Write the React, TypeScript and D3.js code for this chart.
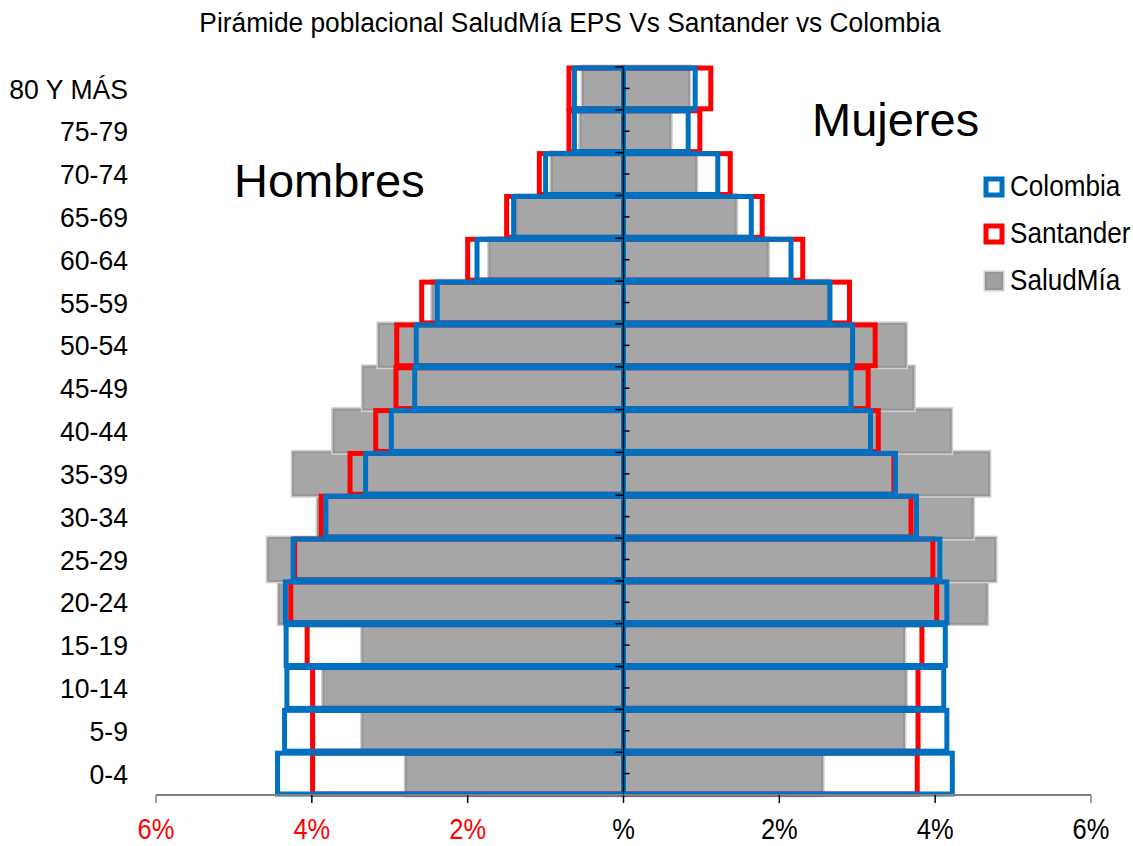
import React from "react";
import * as d3 from "d3";

const categories = ["0-4","5-9","10-14","15-19","20-24","25-29","30-34","35-39","40-44","45-49","50-54","55-59","60-64","65-69","70-74","75-79","80 Y MÁS"];

const colombiaH = [4.44, 4.35, 4.32, 4.33, 4.34, 4.24, 3.82, 3.31, 2.98, 2.68, 2.66, 2.39, 1.88, 1.41, 1.00, 0.63, 0.63];
const santanderH = [3.99, 3.99, 3.99, 4.06, 4.27, 4.22, 3.88, 3.51, 3.18, 2.92, 2.91, 2.59, 2.00, 1.50, 1.08, 0.70, 0.70];
const saludMiaH = [2.79, 3.35, 3.85, 3.35, 4.42, 4.56, 3.92, 4.24, 3.72, 3.34, 3.14, 2.45, 1.72, 1.37, 0.92, 0.55, 0.52];

const colombiaM = [4.22, 4.15, 4.11, 4.13, 4.15, 4.06, 3.76, 3.49, 3.17, 2.92, 2.94, 2.65, 2.15, 1.64, 1.21, 0.83, 0.92];
const santanderM = [3.77, 3.78, 3.78, 3.83, 4.02, 3.97, 3.69, 3.47, 3.27, 3.14, 3.23, 2.90, 2.30, 1.78, 1.37, 0.98, 1.12];
const saludMiaM = [2.55, 3.60, 3.62, 3.60, 4.66, 4.77, 4.48, 4.69, 4.20, 3.72, 3.62, 2.62, 1.85, 1.44, 0.93, 0.60, 0.84];

const xTicks = [-6, -4, -2, 0, 2, 4, 6];
const xTickLabels = ["6%", "4%", "2%", "%", "2%", "4%", "6%"];

const legendItems = ["Colombia", "Santander", "SaludMía"];

const W = 1133;
const H = 846;
const FONT = "'Liberation Sans', Arial, sans-serif";
const BLUE = "#0070C0";
const RED = "#FF0000";

function SText(props: { x: number; y: number; sx: number; size: number; anchor?: string; fill?: string; dy?: string; children: React.ReactNode }) {
  return (
    <text
      transform={`translate(${props.x},${props.y}) scale(${props.sx},1)`}
      textAnchor={props.anchor || "start"}
      fontSize={props.size}
      dy={props.dy}
      fill={props.fill || "#000"}
    >
      {props.children}
    </text>
  );
}

export default function App() {
  const x = d3.scaleLinear().domain([-6, 6]).range([156, 1091]);
  const y = d3.scaleBand<string>().domain([...categories].reverse()).range([67, 795]).padding(0);
  const x0 = x(0);
  const bw = y.bandwidth();

  const barRect = (v: number, side: number) => {
    const xv = x(side * v);
    return { x: Math.min(xv, x0), w: Math.abs(xv - x0) };
  };

  const grayBars = (vals: number[], side: number) =>
    vals.map((v, i) => {
      const r = barRect(v, side);
      const yy = y(categories[i])!;
      return (
        <g key={`g${side}${i}`}>
          <rect x={r.x} y={yy} width={r.w} height={bw} fill="#a6a6a6" stroke="#d0d0d0" strokeWidth={5} />
          <rect x={r.x} y={yy} width={r.w} height={bw} fill="#a6a6a6" stroke="#969696" strokeWidth={2} />
        </g>
      );
    });

  const outlineBars = (vals: number[], side: number, color: string, key: string) =>
    vals.map((v, i) => {
      const r = barRect(v, side);
      const yy = y(categories[i])!;
      return (
        <rect key={`${key}${side}${i}`} x={r.x} y={yy + 1} width={r.w} height={bw - 2} fill="none" stroke={color} strokeWidth={5} />
      );
    });

  return (
    <svg width={W} height={H} style={{ position: "absolute", left: 0, top: 0, background: "#fff" }} fontFamily={FONT}>
      <rect x={0} y={0} width={W} height={H} fill="#fff" />
      <SText x={570} y={32} sx={0.94} size={28} anchor="middle">
        Pirámide poblacional SaludMía EPS Vs Santander vs Colombia
      </SText>

      {grayBars(saludMiaH, -1)}
      {grayBars(saludMiaM, 1)}
      {outlineBars(santanderH, -1, RED, "s")}
      {outlineBars(santanderM, 1, RED, "s")}
      {outlineBars(colombiaH, -1, BLUE, "c")}
      {outlineBars(colombiaM, 1, BLUE, "c")}

      {/* center axis */}
      <line x1={x0} x2={x0} y1={67} y2={795} stroke="#000" strokeWidth={1.5} />
      {categories.map((c, i) => {
        const yy = y(c)!;
        return (
          <g key={`t${i}`}>
            <line x1={x0 - 8} x2={x0} y1={yy} y2={yy} stroke="#000" strokeWidth={1.5} />
            <line x1={x0} x2={x0 + 6} y1={yy + bw / 2} y2={yy + bw / 2} stroke="#000" strokeWidth={1.5} />
          </g>
        );
      })}

      {/* x axis */}
      <line x1={x(-6)} x2={x(6)} y1={795} y2={795} stroke="#808080" strokeWidth={2} />
      {xTicks.map((t, i) => (
        <g key={`xt${i}`}>
          <line x1={x(t)} x2={x(t)} y1={795} y2={803} stroke={t === -6 || t === 6 ? "#808080" : "#000"} strokeWidth={1.5} />
          <SText x={x(t)} y={839} sx={0.85} size={30} anchor="middle" fill={t < 0 ? RED : "#000"}>
            {xTickLabels[i]}
          </SText>
        </g>
      ))}

      {/* category labels */}
      {categories.map((c, i) => (
        <SText key={`yl${i}`} x={128} y={y(c)! + bw / 2} dy="0.36em" sx={0.95} size={28} anchor="end">
          {c}
        </SText>
      ))}

      <text x={234} y={197} fontSize={47} fill="#000">Hombres</text>
      <text x={812} y={136} fontSize={47} fill="#000">Mujeres</text>

      {/* legend */}
      {legendItems.map((name, i) => {
        const ly = 179 + i * 47;
        return (
          <g key={`lg${i}`}>
            {i === 0 && <rect x={986} y={ly} width={16} height={16} fill="#fff" stroke={BLUE} strokeWidth={5} />}
            {i === 1 && <rect x={986} y={ly} width={16} height={16} fill="#fff" stroke={RED} strokeWidth={5} />}
            {i === 2 && (
              <g>
                <rect x={985} y={ly - 1} width={18} height={18} fill="#a6a6a6" stroke="#d0d0d0" strokeWidth={3} />
                <rect x={986} y={ly} width={16} height={16} fill="#a0a0a0" stroke="#969696" strokeWidth={2} />
              </g>
            )}
            <SText x={1010} y={ly + 17} sx={0.9} size={29}>{name}</SText>
          </g>
        );
      })}
    </svg>
  );
}
